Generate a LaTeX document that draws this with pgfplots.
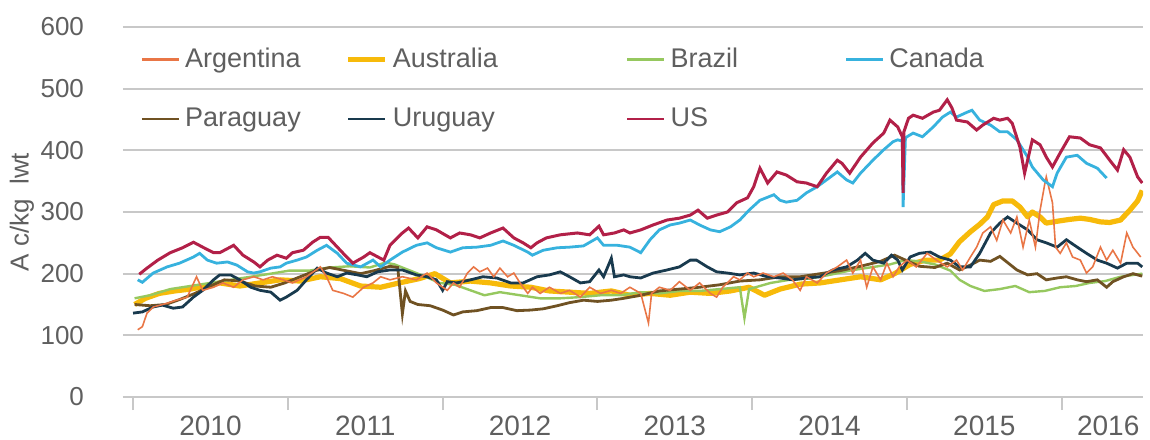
\documentclass[border=0pt]{standalone}
\usepackage{fontspec}
\setmainfont{Liberation Sans}
\usepackage{pgfplots}
\pgfplotsset{compat=1.18}

\definecolor{cArg}{RGB}{233,118,70}
\definecolor{cAus}{RGB}{247,186,10}
\definecolor{cBra}{RGB}{150,200,95}
\definecolor{cCan}{RGB}{55,178,222}
\definecolor{cPar}{RGB}{112,82,35}
\definecolor{cUru}{RGB}{25,58,78}
\definecolor{cUS}{RGB}{178,32,72}
\definecolor{cGrid}{RGB}{200,200,200}
\definecolor{cText}{RGB}{95,95,95}

\begin{document}
\begin{tikzpicture}
\begin{axis}[
  name=ax, at={(0,0)}, anchor=south west,
  scale only axis, width=510pt, height=185pt,
  xmin=2009.935, xmax=2016.525,
  ymin=0, ymax=600,
  axis x line*=bottom, axis y line*=left,
  y axis line style={draw=none},
  x axis line style={cGrid, line width=0.9pt},
  ytick={0,100,...,600},
  ymajorgrids, y grid style={cGrid, line width=0.9pt},
  xtick={2010.5,2011.5,2012.5,2013.5,2014.5,2015.5,2016.3},
  xticklabels={2010,2011,2012,2013,2014,2015,2016},
  minor xtick={2010,2011,...,2016},
  major tick length=0pt, minor tick length=6.5pt, tick align=outside,
  minor x tick style={cGrid, line width=0.9pt},
  /pgf/number format/assume math mode=true,
  yticklabel style={font=\fontsize{13}{15}\selectfont, text=cText, xshift=-16pt},
  xticklabel style={font=\fontsize{14}{16}\selectfont, text=cText, yshift=-6pt},
  ylabel={A c/kg\ \ lwt},
  ylabel style={at={(axis description cs:-0.099,0.5)}, anchor=center, font=\fontsize{13}{15}\selectfont, text=cText},
  legend columns=4,
  legend cell align=left,
  legend image code/.code={\draw[#1] (0pt,0pt) -- (18.5pt,0pt);},
  legend style={draw=none, fill=none, inner sep=0pt,
    at={(axis description cs:0,1)}, anchor=north west, xshift=8.5pt, yshift=-10.5pt,
    font=\fontsize{13.5}{16}\selectfont, text=cText,
    column sep=0pt, row sep=18.5pt,
    nodes={inner xsep=2.5pt, inner ysep=0pt}},
]
\addlegendimage{cArg, line width=1.2pt}
\addlegendentry{\makebox[77.5pt][l]{Argentina}}
\addlegendimage{cAus, line width=2.8pt}
\addlegendentry{\makebox[114pt][l]{Australia}}
\addlegendimage{cBra, line width=1.4pt}
\addlegendentry{\makebox[84.5pt][l]{Brazil}}
\addlegendimage{cCan, line width=1.4pt}
\addlegendentry{Canada}
\addlegendimage{cPar, line width=1.4pt}
\addlegendentry{\makebox[77.5pt][l]{Paraguay}}
\addlegendimage{cUru, line width=1.4pt}
\addlegendentry{\makebox[114pt][l]{Uruguay}}
\addlegendimage{cUS, line width=1.4pt}
\addlegendentry{\makebox[84.5pt][l]{US}}

% Australia
\addplot[forget plot, cAus, line width=2.6pt, line join=round] coordinates {
(2010.01,150)(2010.08,160)(2010.17,168)(2010.27,172)(2010.37,175)(2010.47,180)(2010.56,185)
(2010.69,180)(2010.82,185)(2010.95,190)(2011.08,188)(2011.21,195)(2011.34,192)(2011.47,180)
(2011.60,178)(2011.72,185)(2011.85,192)(2011.95,200)(2012.05,185)(2012.18,188)(2012.31,185)
(2012.44,180)(2012.57,178)(2012.69,172)(2012.82,170)(2012.95,168)(2013.09,172)(2013.21,165)
(2013.34,168)(2013.47,165)(2013.60,170)(2013.73,168)(2013.86,172)(2013.98,178)(2014.08,165)
(2014.18,175)(2014.31,183)(2014.44,185)(2014.57,190)(2014.70,195)(2014.83,190)(2014.92,200)
(2015.02,215)(2015.12,222)(2015.21,222)(2015.28,232)(2015.34,252)(2015.41,268)(2015.47,280)
(2015.52,292)(2015.56,312)(2015.62,318)(2015.68,318)(2015.73,308)(2015.78,292)(2015.81,300)
(2015.86,292)(2015.90,282)(2015.97,285)(2016.05,288)(2016.12,290)(2016.18,288)(2016.25,284)
(2016.31,283)(2016.38,287)(2016.44,303)(2016.49,318)(2016.52,335)
};
% Brazil
\addplot[forget plot, cBra, line width=1.2pt] coordinates {
(2010.01,160)(2010.11,165)(2010.24,175)(2010.37,180)(2010.50,185)(2010.63,190)(2010.76,195)
(2010.89,200)(2011.01,205)(2011.14,205)(2011.27,210)(2011.40,212)(2011.53,210)(2011.63,218)
(2011.69,215)(2011.79,205)(2011.89,195)(2011.98,185)(2012.08,182)(2012.18,173)(2012.27,165)
(2012.37,170)(2012.50,165)(2012.63,160)(2012.76,160)(2012.89,162)(2013.02,165)(2013.15,165)
(2013.28,170)(2013.40,168)(2013.53,172)(2013.66,172)(2013.79,175)(2013.92,178)(2013.95,128)
(2013.98,175)(2014.12,185)(2014.24,190)(2014.37,192)(2014.50,198)(2014.63,205)(2014.76,210)
(2014.89,215)(2014.99,222)(2015.08,220)(2015.18,215)(2015.28,205)(2015.34,190)(2015.41,180)
(2015.50,172)(2015.60,175)(2015.70,180)(2015.79,170)(2015.89,172)(2015.99,178)(2016.09,180)
(2016.18,185)(2016.28,188)(2016.38,195)(2016.52,200)
};
% Paraguay
\addplot[forget plot, cPar, line width=1.4pt] coordinates {
(2010.01,150)(2010.11,148)(2010.21,150)(2010.30,158)(2010.40,168)(2010.50,180)(2010.59,190)
(2010.69,188)(2010.79,180)(2010.89,178)(2010.98,185)(2011.08,195)(2011.18,205)(2011.27,210)
(2011.37,205)(2011.47,200)(2011.56,205)(2011.66,212)(2011.71,210)(2011.74,135)(2011.76,172)
(2011.79,155)(2011.84,150)(2011.92,148)(2012.00,141)(2012.07,133)(2012.13,138)(2012.22,140)
(2012.31,145)(2012.39,145)(2012.48,140)(2012.57,141)(2012.65,143)(2012.74,148)(2012.82,153)
(2012.91,157)(2013.00,155)(2013.09,157)(2013.17,160)(2013.28,165)(2013.40,172)(2013.53,175)
(2013.66,178)(2013.79,182)(2013.92,188)(2014.05,190)(2014.18,195)(2014.31,195)(2014.44,200)
(2014.57,205)(2014.70,212)(2014.83,220)(2014.92,230)(2014.99,222)(2015.08,212)(2015.18,210)
(2015.26,217)(2015.34,206)(2015.41,214)(2015.47,222)(2015.54,220)(2015.60,228)(2015.65,218)
(2015.71,206)(2015.78,198)(2015.84,200)(2015.90,190)(2015.97,193)(2016.03,195)(2016.10,190)
(2016.16,187)(2016.23,190)(2016.29,178)(2016.33,187)(2016.40,195)(2016.46,200)(2016.52,196)
};
% Uruguay
\addplot[forget plot, cUru, line width=1.4pt] coordinates {
(2010.00,136)(2010.06,138)(2010.13,146)(2010.19,149)(2010.26,144)(2010.32,146)(2010.39,162)
(2010.45,173)(2010.52,190)(2010.56,198)(2010.63,198)(2010.69,190)(2010.76,178)(2010.82,173)
(2010.89,170)(2010.95,157)(2010.99,162)(2011.06,173)(2011.12,190)(2011.19,209)(2011.25,201)
(2011.32,195)(2011.38,201)(2011.45,198)(2011.51,195)(2011.58,203)(2011.66,206)(2011.74,206)
(2011.83,198)(2011.90,195)(2011.96,190)(2012.00,173)(2012.03,187)(2012.09,185)(2012.18,190)
(2012.26,195)(2012.35,193)(2012.44,185)(2012.52,185)(2012.61,195)(2012.69,198)(2012.76,203)
(2012.82,195)(2012.89,185)(2012.95,187)(2013.01,206)(2013.04,195)(2013.09,225)(2013.11,195)
(2013.17,198)(2013.21,195)(2013.28,193)(2013.36,201)(2013.45,206)(2013.53,211)(2013.60,222)
(2013.64,222)(2013.71,211)(2013.77,203)(2013.84,201)(2013.92,198)(2014.01,201)(2014.10,195)
(2014.18,193)(2014.26,190)(2014.35,193)(2014.44,195)(2014.52,206)(2014.61,211)(2014.68,222)
(2014.73,233)(2014.78,222)(2014.85,217)(2014.90,230)(2014.94,222)(2014.97,206)(2015.02,227)
(2015.08,233)(2015.15,235)(2015.21,227)(2015.28,222)(2015.34,211)(2015.41,211)(2015.47,233)
(2015.54,266)(2015.60,282)(2015.65,292)(2015.71,282)(2015.78,271)(2015.84,255)(2015.90,250)
(2015.97,243)(2016.03,255)(2016.10,243)(2016.16,233)(2016.23,222)(2016.29,217)(2016.36,209)
(2016.42,217)(2016.49,217)(2016.52,211)
};
% Argentina
\addplot[forget plot, cArg, line width=0.8pt] coordinates {
(2010.03,109)(2010.06,114)(2010.09,136)(2010.13,146)(2010.22,152)(2010.28,157)(2010.35,162)
(2010.41,195)(2010.45,173)(2010.52,178)(2010.58,185)(2010.65,178)(2010.71,190)(2010.78,195)
(2010.84,190)(2010.90,195)(2010.97,190)(2011.03,185)(2011.12,195)(2011.21,211)(2011.25,195)
(2011.29,173)(2011.36,168)(2011.42,162)(2011.49,178)(2011.55,185)(2011.60,195)(2011.66,190)
(2011.74,195)(2011.83,190)(2011.90,201)(2011.96,185)(2012.03,173)(2012.07,185)(2012.11,178)
(2012.16,201)(2012.20,211)(2012.24,203)(2012.29,209)(2012.33,195)(2012.37,209)(2012.42,195)
(2012.46,201)(2012.50,185)(2012.55,168)(2012.58,178)(2012.63,168)(2012.69,178)(2012.76,168)
(2012.82,173)(2012.89,162)(2012.95,178)(2013.02,168)(2013.09,173)(2013.15,168)(2013.21,178)
(2013.28,168)(2013.33,120)(2013.35,168)(2013.40,178)(2013.47,173)(2013.53,187)(2013.60,173)
(2013.66,185)(2013.73,168)(2013.77,162)(2013.81,178)(2013.88,195)(2013.92,190)(2013.97,201)
(2014.01,195)(2014.07,201)(2014.14,195)(2014.20,201)(2014.26,190)(2014.31,173)(2014.35,195)
(2014.42,185)(2014.48,201)(2014.55,211)(2014.61,222)(2014.65,201)(2014.70,222)(2014.74,178)
(2014.78,211)(2014.83,190)(2014.87,217)(2014.91,195)(2014.95,211)(2015.00,222)(2015.06,211)
(2015.13,233)(2015.19,222)(2015.26,211)(2015.32,222)(2015.36,206)(2015.41,227)(2015.45,243)
(2015.49,266)(2015.54,276)(2015.58,254)(2015.62,287)(2015.67,266)(2015.71,292)(2015.75,243)
(2015.79,287)(2015.83,243)(2015.86,303)(2015.89,345)(2015.90,357)(2015.94,315)(2015.96,243)
(2015.99,233)(2016.03,250)(2016.07,227)(2016.12,222)(2016.16,201)(2016.20,211)(2016.25,243)
(2016.29,222)(2016.33,238)(2016.38,217)(2016.42,266)(2016.46,243)(2016.51,227)
};
% Canada
\addplot[forget plot, cCan, line width=1.4pt] coordinates {
(2010.03,190)(2010.06,186)(2010.13,201)(2010.22,211)(2010.30,217)(2010.39,227)(2010.43,233)
(2010.48,222)(2010.54,217)(2010.61,219)(2010.67,214)(2010.74,203)(2010.78,201)(2010.82,203)
(2010.89,209)(2010.95,211)(2010.99,217)(2011.06,222)(2011.12,227)(2011.19,238)(2011.25,246)
(2011.32,233)(2011.38,217)(2011.47,211)(2011.55,222)(2011.60,211)(2011.66,222)(2011.74,235)
(2011.83,246)(2011.90,250)(2011.96,242)(2012.05,235)(2012.13,242)(2012.22,243)(2012.31,246)
(2012.39,253)(2012.46,246)(2012.55,235)(2012.58,230)(2012.65,238)(2012.74,242)(2012.82,243)
(2012.91,245)(2013.00,258)(2013.04,246)(2013.13,246)(2013.21,243)(2013.28,234)(2013.34,255)
(2013.40,271)(2013.47,279)(2013.53,282)(2013.60,287)(2013.66,279)(2013.73,271)(2013.79,268)
(2013.86,276)(2013.92,287)(2013.98,303)(2014.05,319)(2014.10,324)(2014.14,328)(2014.18,319)
(2014.22,316)(2014.29,319)(2014.35,331)(2014.42,341)(2014.48,352)(2014.55,365)(2014.61,352)
(2014.65,347)(2014.70,363)(2014.78,384)(2014.85,401)(2014.91,414)(2014.94,417)(2014.97,415)
(2014.975,308)(2014.99,420)(2015.00,422)(2015.04,428)(2015.10,422)(2015.17,438)(2015.23,454)
(2015.28,462)(2015.32,454)(2015.39,462)(2015.42,465)(2015.47,449)(2015.54,441)(2015.60,430)
(2015.65,430)(2015.71,417)(2015.78,389)(2015.81,373)(2015.88,352)(2015.94,341)(2015.97,363)
(2016.03,389)(2016.10,392)(2016.16,379)(2016.23,371)(2016.29,355)
};
% US
\addplot[forget plot, cUS, line width=1.5pt] coordinates {
(2010.04,199)(2010.09,209)(2010.16,222)(2010.24,234)(2010.32,242)(2010.39,251)(2010.45,243)
(2010.52,234)(2010.56,234)(2010.65,246)(2010.71,230)(2010.78,219)(2010.82,211)(2010.87,222)
(2010.93,230)(2010.99,225)(2011.03,234)(2011.10,238)(2011.16,251)(2011.21,259)(2011.26,259)
(2011.32,243)(2011.38,227)(2011.42,217)(2011.49,227)(2011.53,234)(2011.62,222)(2011.66,246)
(2011.74,266)(2011.78,274)(2011.84,258)(2011.90,276)(2011.96,271)(2012.05,258)(2012.11,266)
(2012.18,263)(2012.24,258)(2012.31,266)(2012.39,274)(2012.46,258)(2012.52,250)(2012.57,242)
(2012.61,250)(2012.67,258)(2012.76,263)(2012.87,266)(2012.95,263)(2013.01,277)(2013.04,263)
(2013.11,266)(2013.17,271)(2013.21,266)(2013.28,271)(2013.36,279)(2013.45,287)(2013.53,290)
(2013.60,295)(2013.65,303)(2013.71,290)(2013.77,295)(2013.84,300)(2013.90,315)(2013.97,323)
(2014.01,341)(2014.05,371)(2014.10,347)(2014.16,365)(2014.22,360)(2014.29,349)(2014.35,347)
(2014.42,341)(2014.48,363)(2014.55,384)(2014.58,379)(2014.63,363)(2014.70,389)(2014.78,412)
(2014.85,428)(2014.89,449)(2014.94,438)(2014.97,422)(2014.975,331)(2014.98,430)(2015.01,452)
(2015.04,457)(2015.10,452)(2015.17,462)(2015.21,465)(2015.26,482)(2015.29,469)(2015.32,449)
(2015.39,446)(2015.45,433)(2015.49,441)(2015.56,452)(2015.60,449)(2015.65,452)(2015.68,444)
(2015.73,405)(2015.76,363)(2015.81,417)(2015.86,409)(2015.90,389)(2015.94,373)(2015.99,396)
(2016.05,422)(2016.12,420)(2016.18,409)(2016.25,404)(2016.31,384)(2016.36,368)(2016.40,401)
(2016.44,389)(2016.49,357)(2016.52,347)
};
\end{axis}
\pgfresetboundingbox
\path[use as bounding box] (-61.5pt,-21pt) rectangle (513.5pt,198.5pt);
\end{tikzpicture}
\end{document}
